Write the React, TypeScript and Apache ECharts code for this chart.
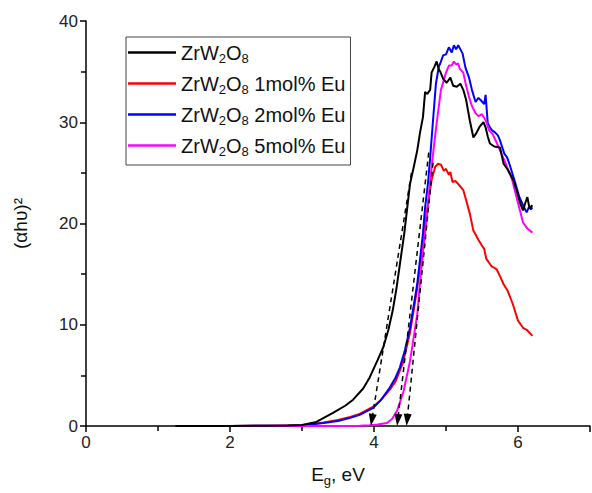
import React, { useEffect, useRef } from "react";
import * as echarts from "echarts";

const seriesNames = ["ZrW2O8", "ZrW2O8 1mol% Eu", "ZrW2O8 2mol% Eu", "ZrW2O8 5mol% Eu"];
const seriesColors = ["#000000", "#ff0000", "#0000ff", "#ff00ff"];

const blackX = [1.24, 2.0, 2.5, 2.8, 3.0, 3.2, 3.43, 3.6, 3.71, 3.85, 3.94, 4.05, 4.13, 4.2, 4.26, 4.31, 4.36, 4.42, 4.5, 4.55, 4.6, 4.64, 4.68, 4.71, 4.74, 4.78, 4.8, 4.84, 4.87, 4.9, 4.92, 4.96, 5.01, 5.06, 5.1, 5.15, 5.2, 5.24, 5.28, 5.33, 5.38, 5.42, 5.47, 5.52, 5.55, 5.58, 5.61, 5.67, 5.75, 5.8, 5.85, 5.89, 5.94, 5.98, 6.03, 6.07, 6.1, 6.13, 6.16, 6.2];
const blackY = [0, 0, 0.02, 0.05, 0.1, 0.4, 1.3, 2.0, 2.6, 3.7, 4.8, 6.5, 7.8, 9.5, 11.4, 13.5, 16, 19, 23.9, 25.5, 27.2, 29, 30.5, 33, 32.8, 33.2, 34.9, 35.5, 36.0, 35.2, 35, 34.3, 33.9, 34.4, 33.6, 33.5, 33.8, 33.2, 32.2, 30.2, 28.5, 28.9, 29.6, 30, 29.5, 28.6, 27.9, 27.6, 27.5, 25.9, 25.4, 24.9, 24.2, 23.3, 22, 21.3, 22, 22.6, 21.5, 21.8];

const redX = [1.24, 2.0, 2.5, 3.0, 3.3, 3.5, 3.67, 3.8, 3.99, 4.1, 4.22, 4.3, 4.4, 4.5, 4.6, 4.68, 4.73, 4.8, 4.85, 4.89, 4.93, 4.97, 5.0, 5.04, 5.06, 5.09, 5.13, 5.17, 5.24, 5.28, 5.33, 5.38, 5.45, 5.5, 5.53, 5.56, 5.63, 5.7, 5.75, 5.8, 5.86, 5.93, 6.0, 6.07, 6.12, 6.2];
const redY = [0, 0, 0.03, 0.08, 0.35, 0.6, 0.9, 1.2, 1.9, 2.6, 3.6, 4.4, 6.2, 9.2, 13.6, 18.3, 21, 24.3, 25.6, 25.9, 25.8, 25.2, 25.4, 24.8, 25.1, 24.1, 24.2, 23.9, 23.3, 22.3, 21, 19.3, 18.4, 17.8, 17.5, 16.5, 15.8, 15.5, 14.8, 14, 13.3, 12, 10.4, 9.7, 9.5, 8.9];

const blueX = [1.24, 2.0, 2.5, 3.0, 3.3, 3.5, 3.67, 3.8, 3.99, 4.1, 4.22, 4.3, 4.36, 4.43, 4.5, 4.55, 4.6, 4.64, 4.68, 4.71, 4.75, 4.78, 4.82, 4.86, 4.9, 4.92, 4.96, 5.0, 5.04, 5.08, 5.11, 5.14, 5.17, 5.2, 5.23, 5.27, 5.32, 5.36, 5.41, 5.45, 5.48, 5.53, 5.55, 5.58, 5.61, 5.64, 5.68, 5.72, 5.75, 5.81, 5.85, 5.88, 5.95, 6.02, 6.07, 6.12, 6.15, 6.18, 6.2];
const blueY = [0, 0, 0.02, 0.05, 0.3, 0.5, 0.8, 1.1, 1.8, 2.6, 3.8, 4.8, 5.8, 7.5, 9.7, 11.8, 14, 16.5, 19, 21.6, 24, 26.5, 30.2, 33.8, 35.5, 35.8, 36.6, 36.7, 37.4, 36.9, 37.6, 37.2, 37.6, 37.2, 36.8, 35.4, 34.4, 33.2, 32.0, 32.4, 32.2, 31.8, 32.7, 29.9, 29.5, 29.2, 29.0, 28.7, 28.2, 26.9, 26.5, 25.9, 24.3, 22.6, 21.8, 21.1, 21.6, 21.4, 21.6];

const magentaX = [1.24, 2.0, 3.0, 3.5, 3.8, 3.94, 4.05, 4.18, 4.25, 4.32, 4.41, 4.5, 4.6, 4.68, 4.73, 4.79, 4.83, 4.87, 4.93, 5.0, 5.04, 5.08, 5.11, 5.14, 5.17, 5.19, 5.24, 5.27, 5.32, 5.36, 5.41, 5.45, 5.5, 5.55, 5.6, 5.65, 5.69, 5.77, 5.83, 5.92, 5.99, 6.07, 6.13, 6.2];
const magentaY = [0, 0, 0, 0.01, 0.03, 0.08, 0.15, 0.3, 0.7, 1.5, 3.4, 6.4, 11, 17.3, 20.3, 24.9, 27.5, 29.9, 33.2, 34.9, 35.6, 35.6, 36.0, 35.7, 35.8, 35.3, 34.9, 33.9, 32.5, 31.6, 30.9, 30.6, 30.8, 30.2, 29.2, 28.8, 28.2, 26.9, 25.9, 24.3, 22.3, 20.1, 19.5, 19.1];

// tangent lines: [topX, topY, interceptX]
const tangentBlack = [4.52, 25, 3.97];
const tangentBlue = [4.76, 27, 4.33];
const tangentMagenta = [4.82, 26, 4.46];

const xTicks = { min: 0, max: 7, interval: 2 };
const yTicks = { min: 0, max: 40, interval: 10 };

const FONT = 'Arial, "Liberation Sans", sans-serif';

function zip(xs: number[], ys: number[]) {
  return xs.map((x, i) => [x, ys[i]]);
}

function tangentMark(t: number[]) {
  return {
    silent: true,
    animation: false,
    symbol: ["none", "triangle"],
    label: { show: false },
    emphasis: { disabled: true },
    lineStyle: { color: "#000", type: [5, 4], width: 1.5 },
    data: [
      [
        { coord: [t[0], t[1]], symbol: "none" },
        { coord: [t[2], 0.6], symbol: "triangle", symbolSize: [8, 12] },
      ],
    ],
  };
}

export default function App() {
  const ref = useRef<HTMLDivElement>(null);
  useEffect(() => {
    if (!ref.current) return;
    const chart = echarts.init(ref.current, null, { renderer: "svg" });
    const datas = [zip(blackX, blackY), zip(redX, redY), zip(blueX, blueY), zip(magentaX, magentaY)];
    const marks = [tangentMark(tangentBlack), undefined, tangentMark(tangentBlue), tangentMark(tangentMagenta)];
    const order = [1, 2, 3, 0];
    const series = order.map((i) => ({
      type: "line",
      name: seriesNames[i],
      data: datas[i],
      showSymbol: false,
      symbol: "none",
      color: seriesColors[i],
      lineStyle: { width: 2, color: seriesColors[i] },
      z: 2,
      markLine: marks[i],
    }));
    const richSub = { fontSize: 13, lineHeight: 25, verticalAlign: "bottom", fontFamily: FONT, color: "#111" };
    chart.setOption({
      animation: false,
      textStyle: { fontFamily: FONT },
      grid: { left: 86, right: 2, top: 21, bottom: 67, containLabel: false },
      legend: {
        data: seriesNames,
        orient: "vertical",
        left: 126,
        top: 37,
        selectedMode: false,
        icon: "rect",
        itemWidth: 48,
        itemHeight: 2.5,
        itemGap: 6,
        padding: [3, 5, 7, 2],
        borderColor: "#444",
        borderWidth: 1,
        formatter: (n: string) => n.replace("ZrW2O8", "ZrW{s|2}O{s|8}"),
        textStyle: {
          fontFamily: FONT,
          fontSize: 20,
          color: "#111",
          lineHeight: 22,
          rich: { s: richSub },
        },
      },
      xAxis: {
        type: "value",
        min: xTicks.min,
        max: xTicks.max,
        interval: xTicks.interval,
        name: "E{s|g}, eV",
        nameLocation: "middle",
        nameGap: 36,
        nameTextStyle: {
          fontFamily: FONT,
          fontSize: 19,
          color: "#111",
          lineHeight: 22,
          rich: { s: richSub },
        },
        axisLine: { lineStyle: { color: "#000", width: 1.5 } },
        axisTick: { inside: false, length: 6, lineStyle: { color: "#000", width: 1.5 } },
        minorTick: { show: true, splitNumber: 2, length: 5, lineStyle: { color: "#000", width: 1.5 } },
        axisLabel: { fontFamily: FONT, fontSize: 17, color: "#222", margin: 8, showMaxLabel: false },
        splitLine: { show: false },
      },
      yAxis: {
        type: "value",
        min: yTicks.min,
        max: yTicks.max,
        interval: yTicks.interval,
        name: "(αhυ)²",
        nameLocation: "middle",
        nameGap: 56,
        nameRotate: 90,
        nameTextStyle: { fontFamily: FONT, fontSize: 19, color: "#111" },
        axisLine: { show: true, lineStyle: { color: "#000", width: 1.5 } },
        axisTick: { show: true, inside: false, length: 6, lineStyle: { color: "#000", width: 1.5 } },
        minorTick: { show: true, splitNumber: 2, length: 5, lineStyle: { color: "#000", width: 1.5 } },
        axisLabel: { fontFamily: FONT, fontSize: 17, color: "#222", margin: 8 },
        splitLine: { show: false },
      },
      series,
    });
    return () => chart.dispose();
  }, []);
  return <div ref={ref} style={{ width: 592, height: 493, position: "absolute", left: 0, top: 0, background: "#fff" }} />;
}
